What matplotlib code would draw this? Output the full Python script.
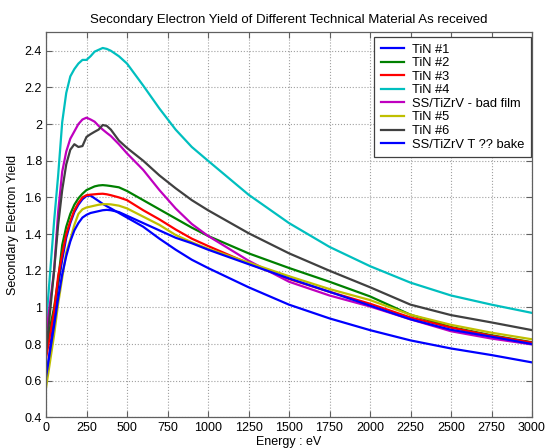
import matplotlib
matplotlib.use("Agg")
import matplotlib.pyplot as plt
from matplotlib.ticker import FuncFormatter

plt.rcParams['font.family'] = ['Liberation Sans', 'DejaVu Sans']

energy = [0, 50, 75, 100, 125, 150, 175, 200, 225, 250, 275, 300, 325, 350, 375,
          400, 450, 500, 600, 700, 800, 900, 1000, 1250, 1500, 1750, 2000, 2250,
          2500, 2750, 3000]

tin1 = [0.60, 0.95, 1.12, 1.26, 1.38, 1.46, 1.52, 1.56, 1.59, 1.608, 1.61, 1.595, 1.58,
        1.565, 1.552, 1.54, 1.515, 1.49, 1.44, 1.375, 1.315, 1.26, 1.215, 1.11, 1.015,
        0.94, 0.876, 0.82, 0.776, 0.74, 0.70]
tin2 = [0.78, 1.00, 1.15, 1.34, 1.44, 1.51, 1.56, 1.595, 1.62, 1.64, 1.65, 1.66, 1.665,
        1.667, 1.665, 1.662, 1.655, 1.635, 1.585, 1.535, 1.485, 1.435, 1.39, 1.295,
        1.215, 1.14, 1.06, 0.96, 0.893, 0.848, 0.81]
tin3 = [0.72, 0.98, 1.17, 1.29, 1.40, 1.47, 1.53, 1.57, 1.60, 1.612, 1.615, 1.617, 1.619,
        1.62, 1.617, 1.612, 1.60, 1.585, 1.53, 1.48, 1.425, 1.375, 1.335, 1.24, 1.155,
        1.085, 1.02, 0.945, 0.89, 0.845, 0.808]
tin4 = [0.90, 1.47, 1.72, 2.01, 2.17, 2.26, 2.30, 2.33, 2.35, 2.35, 2.37, 2.395, 2.405,
        2.415, 2.41, 2.40, 2.37, 2.33, 2.21, 2.085, 1.97, 1.875, 1.80, 1.615, 1.46, 1.33,
        1.225, 1.135, 1.065, 1.015, 0.97]
ss_bad = [0.85, 1.20, 1.52, 1.74, 1.85, 1.92, 1.96, 2.00, 2.025, 2.035, 2.025, 2.013,
          1.99, 1.97, 1.952, 1.935, 1.89, 1.84, 1.75, 1.64, 1.54, 1.455, 1.39, 1.255,
          1.14, 1.065, 1.005, 0.935, 0.87, 0.83, 0.798]
tin5 = [0.56, 0.85, 1.02, 1.16, 1.30, 1.37, 1.45, 1.51, 1.535, 1.545, 1.55, 1.555, 1.56,
        1.563, 1.563, 1.562, 1.555, 1.54, 1.495, 1.45, 1.395, 1.355, 1.32, 1.245, 1.17,
        1.1, 1.04, 0.96, 0.905, 0.862, 0.826]
tin6 = [0.75, 1.20, 1.45, 1.64, 1.78, 1.86, 1.89, 1.875, 1.88, 1.93, 1.945, 1.958, 1.97,
        1.995, 1.99, 1.97, 1.91, 1.87, 1.80, 1.72, 1.65, 1.585, 1.53, 1.405, 1.295, 1.20,
        1.11, 1.015, 0.958, 0.918, 0.876]
ss_bake = [0.62, 0.90, 1.05, 1.18, 1.28, 1.36, 1.42, 1.46, 1.49, 1.505, 1.515, 1.52,
           1.525, 1.53, 1.532, 1.53, 1.52, 1.50, 1.46, 1.42, 1.38, 1.35, 1.315, 1.236,
           1.158, 1.085, 1.01, 0.935, 0.878, 0.84, 0.80]

labels = ['TiN #1', 'TiN #2', 'TiN #3', 'TiN #4', 'SS/TiZrV - bad film', 'TiN #5',
          'TiN #6', 'SS/TiZrV T ?? bake']
series = [tin1, tin2, tin3, tin4, ss_bad, tin5, tin6, ss_bake]
colors = ['#0000ff', '#008000', '#ff0000', '#00bfbf', '#bf00bf', '#bfbf00', '#404040',
          '#0000ff']

xticks = list(range(0, 3001, 250))
yticks = [0.4, 0.6, 0.8, 1.0, 1.2, 1.4, 1.6, 1.8, 2.0, 2.2, 2.4]

fig = plt.figure(figsize=(5.46, 4.48), dpi=100)
ax = fig.add_axes([46/546, 1-417.4/448, (532-46)/546, (417.4-32.4)/448])

for y, c, lab in zip(series, colors, labels):
    ax.plot(energy, y, color=c, lw=1.6, label=lab)

ax.set_xlim(0, 3000)
ax.set_ylim(0.4, 2.5)
ax.set_xticks(xticks)
ax.set_yticks(yticks)
ax.yaxis.set_major_formatter(FuncFormatter(lambda v, p: ('%g' % round(v, 2))))
ax.grid(True, linestyle=':', color='#a0a0a0', lw=0.8)
ax.tick_params(direction='in', top=True, right=True, length=4, labelsize=9,
               color='#606060', pad=3)
for s in ax.spines.values():
    s.set_color('#606060')
    s.set_linewidth(0.9)

ax.set_title('Secondary Electron Yield of Different Technical Material As received',
             fontsize=9.5, pad=7)
ax.set_xlabel('Energy : eV', fontsize=9, labelpad=2)
ax.set_ylabel('Secondary Electron Yield', fontsize=9, labelpad=4)

leg = ax.legend(loc='upper right', bbox_to_anchor=(0.998, 0.988), borderaxespad=0,
                fontsize=9.3, fancybox=False, framealpha=1, edgecolor='#404040',
                handlelength=1.8, handletextpad=0.65, labelspacing=0.12,
                borderpad=0.5)
leg.get_frame().set_linewidth(0.9)

fig.savefig('out.png', dpi=100)
